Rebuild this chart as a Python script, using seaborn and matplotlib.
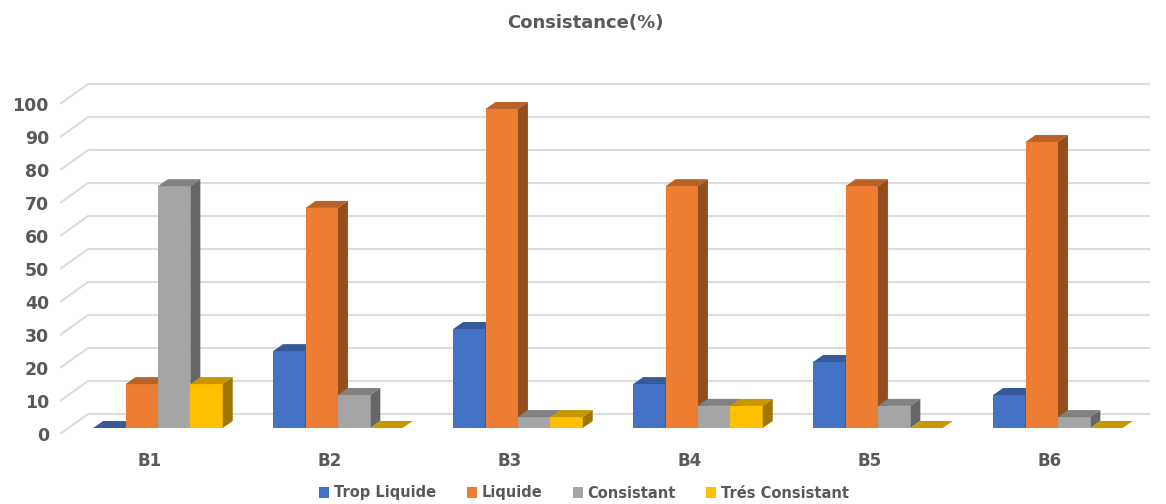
import numpy as np
import pandas as pd
import matplotlib
matplotlib.use("Agg")
import matplotlib.pyplot as plt
from matplotlib.patches import Polygon, Rectangle
from matplotlib.transforms import ScaledTranslation
import seaborn as sns

# Consistency classes per batch (%)
categories = ["B1", "B2", "B3", "B4", "B5", "B6"]
trop_liquide = [0.0, 23.3, 30.0, 13.3, 20.0, 10.0]
liquide = [13.3, 66.7, 96.7, 73.3, 73.3, 86.7]
consistant = [73.3, 10.0, 3.3, 6.7, 6.7, 3.3]
tres_consistant = [13.3, 0.0, 3.3, 6.7, 0.0, 0.0]

series_names = ["Trop Liquide", "Liquide", "Consistant", "Trés Consistant"]
series_colors = ["#4472C4", "#ED7D31", "#A5A5A5", "#FFC000"]
y_ticks = list(range(0, 101, 10))

df = pd.DataFrame({
    "Lot": categories * 4,
    "Classe": np.repeat(series_names, len(categories)),
    "Valeur": trop_liquide + liquide + consistant + tres_consistant,
})

sns.set_theme(style="white")
plt.rcParams["font.family"] = ["DejaVu Sans"]
text_color = "#595959"

W, H = 1166, 504
fig = plt.figure(figsize=(W / 100, H / 100), dpi=100)
ax = fig.add_axes([60 / W, 1 - 440 / H, 1100 / W, 365 / H])

sns.barplot(data=df, x="Lot", y="Valeur", hue="Classe", hue_order=series_names,
            palette=series_colors, width=0.72, saturation=1, linewidth=0,
            errorbar=None, ax=ax)

ax.set_xlim(-0.544, 5.567)
ax.set_ylim(-3.64, 107)
for s in ax.spines.values():
    s.set_visible(False)
ax.grid(False)
ax.set_xlabel("")
ax.set_ylabel("")


def px_to_data(dxp, dyp):
    p0 = ax.transData.transform((0, 0))
    return ax.transData.inverted().transform(p0 + np.array([dxp, dyp]))


# depth of the bars and of the back wall, in pixels
bar_dx, bar_dy = px_to_data(10, 7)
wall_dx, wall_dy = px_to_data(28, 14)
_, front_dy = px_to_data(0, -6)
x_left = ax.get_xlim()[0]
x_right = px_to_data(1150 - 60, 0)[0] + x_left

# back wall gridlines with the receding floor edge
for v in y_ticks:
    ax.plot([x_left, x_left + wall_dx, x_right],
            [v + front_dy, v + wall_dy, v + wall_dy],
            color="#DCDCDC", lw=1.5, zorder=1, solid_capstyle="butt")


def shade(c, f):
    r, g, b = c[:3]
    return (r * f, g * f, b * f)


bars = [p for p in ax.patches if isinstance(p, Rectangle)]
bars.sort(key=lambda p: p.get_x())
for k, p in enumerate(bars):
    x0, w, h = p.get_x(), p.get_width(), p.get_height()
    x1 = x0 + w
    col = p.get_facecolor()
    base = 10 + 3 * k
    p.set_zorder(base)
    top = Polygon([(x0, h), (x1, h), (x1 + bar_dx, h + bar_dy), (x0 + bar_dx, h + bar_dy)],
                  closed=True, facecolor=shade(col, 0.78), edgecolor="none", zorder=base + 1)
    side = Polygon([(x1, 0), (x1, h), (x1 + bar_dx, h + bar_dy), (x1 + bar_dx, bar_dy)],
                   closed=True, facecolor=shade(col, 0.62), edgecolor="none", zorder=base + 2)
    ax.add_patch(top)
    ax.add_patch(side)

ax.set_yticks(y_ticks)
ax.set_yticklabels([str(v) for v in y_ticks])
ax.tick_params(axis="y", length=0, pad=8, labelsize=12.5, labelcolor=text_color)
ax.tick_params(axis="x", length=0, pad=8.7, labelsize=12, labelcolor=text_color)
down = ScaledTranslation(0, -6 / 100, fig.dpi_scale_trans)
left = ScaledTranslation(-8 / 100, 0, fig.dpi_scale_trans)
for lab in ax.get_yticklabels():
    lab.set_fontweight("bold")
    lab.set_transform(lab.get_transform() + down)
for lab in ax.get_xticklabels():
    lab.set_fontweight("bold")
    lab.set_transform(lab.get_transform() + left)

fig.text(585 / W, 1 - 23 / H, "Consistance(%)", ha="center", va="center",
         fontsize=13, fontweight="bold", color=text_color)

sns.move_legend(ax, "center", bbox_to_anchor=(584 / W, 1 - 493 / H),
                bbox_transform=fig.transFigure, ncol=4, frameon=False, title=None,
                handlelength=0.7, handleheight=0.7, handletextpad=0.3,
                columnspacing=2.1, prop={"size": 10.5, "weight": "bold"})
for t in ax.get_legend().get_texts():
    t.set_color(text_color)

fig.savefig("out.png", dpi=100, facecolor="white")
